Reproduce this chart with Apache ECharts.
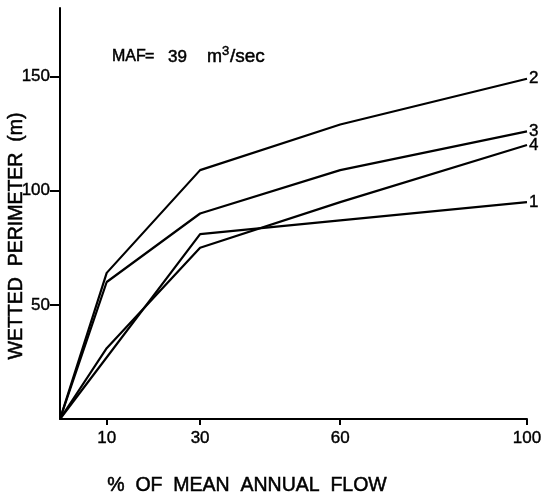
<!DOCTYPE html>
<html>
<head>
<meta charset="utf-8">
<script src="https://cdn.jsdelivr.net/npm/echarts@6/dist/echarts.min.js"></script>
<style>html,body{margin:0;padding:0;background:#fff}#c{width:547px;height:496px}</style>
</head>
<body>
<div id="c"></div>
<script>
// Data
const flowPct = [0, 10, 30, 60, 100];
const curve1 = [0, null, 81, 87, 95];
const curve2 = [0, 64, 109, 129, 149];
const curve3 = [0, 60, 90, 109, 126];
const curve4 = [0, 31, 75, 95, 120];
const seriesNames = ['1', '2', '3', '4'];
const xTicks = [10, 30, 60, 100];
const yTicks = [50, 100, 150];

const FONT = 'Liberation Sans, Arial, sans-serif';
const curves = [curve1, curve2, curve3, curve4];
const bold = { textBorderColor: '#000', textBorderWidth: 0.4 };
const gbold = { stroke: '#000', lineWidth: 0.5 };

const chart = echarts.init(document.getElementById('c'));
chart.setOption({
  animation: false,
  backgroundColor: '#fff',
  grid: { left: 60, right: 20, top: 8, bottom: 77 },
  xAxis: {
    type: 'value', min: 0, max: 100,
    axisLine: { lineStyle: { color: '#000', width: 2 } },
    axisTick: { customValues: xTicks, length: 6, lineStyle: { color: '#000', width: 2 } },
    axisLabel: Object.assign({ customValues: xTicks, color: '#000', fontSize: 17, fontFamily: FONT, margin: 11 }, bold),
    splitLine: { show: false }
  },
  yAxis: {
    type: 'value', min: 0, max: 180,
    axisLine: { lineStyle: { color: '#000', width: 2 } },
    axisTick: { customValues: yTicks, length: 10, lineStyle: { color: '#000', width: 2 } },
    axisLabel: Object.assign({ customValues: yTicks, color: '#000', fontSize: 17, fontFamily: FONT, margin: 10 }, bold),
    splitLine: { show: false }
  },
  series: curves.map((c, i) => ({
    name: seriesNames[i],
    type: 'line',
    data: flowPct.map((x, j) => [x, c[j]]),
    connectNulls: true,
    showSymbol: false,
    symbol: 'none',
    lineStyle: { color: '#000', width: 2.2 },
    endLabel: Object.assign({ show: true, formatter: '{a}', color: '#000', fontSize: 17, fontFamily: FONT, distance: 2 }, bold),
    silent: true
  })),
  graphic: [
    {
      type: 'text', x: 112, y: 57,
      style: {
        text: '{a|MAF}{b|=}{n|39}{m|m}{sup|3}{l|/sec}',
        textVerticalAlign: 'middle',
        rich: {
          a: Object.assign({ fontSize: 16, fontFamily: FONT, fill: '#000', width: 33, height: 20, verticalAlign: 'bottom' }, gbold),
          b: Object.assign({ fontSize: 16, fontFamily: FONT, fill: '#000', width: 23, height: 20, verticalAlign: 'bottom' }, gbold),
          n: Object.assign({ fontSize: 17, fontFamily: FONT, fill: '#000', width: 39, height: 20, verticalAlign: 'bottom' }, gbold),
          m: Object.assign({ fontSize: 18, fontFamily: FONT, fill: '#000', width: 15, height: 20, verticalAlign: 'bottom' }, gbold),
          sup: Object.assign({ fontSize: 13, fontFamily: FONT, fill: '#000', width: 8, height: 8, verticalAlign: 'top' }, gbold),
          l: Object.assign({ fontSize: 19, fontFamily: FONT, fill: '#000', height: 20, verticalAlign: 'bottom' }, gbold)
        }
      }
    },
    {
      type: 'text', x: 17, y: 236, rotation: Math.PI / 2,
      style: Object.assign({
        text: 'WETTED  PERIMETER  (m)', fontSize: 19.5, fontFamily: FONT, fill: '#000',
        textAlign: 'center', textVerticalAlign: 'middle'
      }, gbold)
    },
    {
      type: 'text', x: 247, y: 486,
      style: Object.assign({
        text: '%  OF  MEAN  ANNUAL  FLOW', fontSize: 19.5, fontFamily: FONT, fill: '#000',
        textAlign: 'center', textVerticalAlign: 'middle'
      }, gbold)
    }
  ]
});
</script>
</body>
</html>
